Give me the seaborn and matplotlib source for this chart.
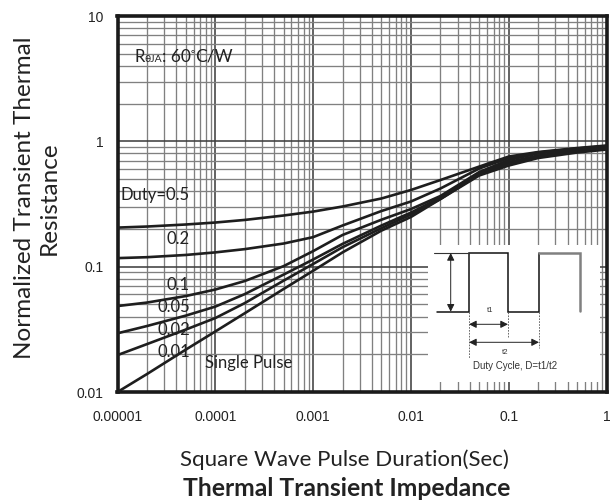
import numpy as np
import pandas as pd
import seaborn as sns
import matplotlib.pyplot as plt
from matplotlib.ticker import LogLocator, NullFormatter, FixedLocator

sns.set_theme(style="white")
plt.rcParams['font.family'] = ['Lato', 'DejaVu Sans']

# ---------------- data ----------------
pulse_time = [1e-5, 2e-5, 5e-5, 1e-4, 2e-4, 5e-4, 1e-3, 2e-3, 5e-3,
              1e-2, 2e-2, 5e-2, 0.1, 0.2, 0.5, 1.0]
duty_05 = [0.205, 0.209, 0.217, 0.225, 0.236, 0.256, 0.275, 0.302, 0.350,
           0.409, 0.491, 0.629, 0.756, 0.822, 0.884, 0.926]
duty_02 = [0.117, 0.119, 0.124, 0.130, 0.138, 0.153, 0.172, 0.213, 0.278,
           0.331, 0.420, 0.607, 0.736, 0.814, 0.876, 0.917]
duty_01 = [0.0485, 0.0517, 0.0583, 0.0657, 0.0768, 0.101, 0.133, 0.179, 0.237,
           0.288, 0.366, 0.569, 0.710, 0.800, 0.870, 0.910]
duty_005 = [0.0294, 0.0336, 0.0407, 0.0480, 0.0604, 0.0865, 0.114, 0.152, 0.213,
            0.270, 0.356, 0.559, 0.684, 0.770, 0.845, 0.892]
duty_002 = [0.0197, 0.0241, 0.0315, 0.0389, 0.0512, 0.0774, 0.105, 0.143, 0.203,
            0.261, 0.346, 0.548, 0.665, 0.756, 0.829, 0.876]
single_pulse = [0.0100, 0.0139, 0.0218, 0.0304, 0.0425, 0.0664, 0.0927, 0.130, 0.194,
                0.249, 0.346, 0.534, 0.641, 0.736, 0.814, 0.860]

curve_names = ["0.5", "0.2", "0.1", "0.05", "0.02", "single"]
curve_values = [duty_05, duty_02, duty_01, duty_005, duty_002, single_pulse]

x_ticks = [1e-5, 1e-4, 1e-3, 1e-2, 1e-1, 1]
x_tick_labels = ["0.00001", "0.0001", "0.001", "0.01", "0.1", "1"]
y_ticks = [0.01, 0.1, 1, 10]
y_tick_labels = ["0.01", "0.1", "1", "10"]

label_texts = ["Duty=0.5", "0.2", "0.1", "0.05", "0.02", "0.01"]
label_y = [0.373, 0.166, 0.0713, 0.0476, 0.0312, 0.0208]

# inset schematic (inset-local units)
wave_x = [9, 41, 41, 80, 80, 111, 111]
wave_y = [66.7, 66.7, 8, 8, 66.7, 66.7, 8]
wave_tail_x = [111, 152, 152]
wave_tail_y = [8, 8, 66]

# ---------------- figure ----------------
fig = plt.figure(figsize=(6.14, 5.04), dpi=100)
ax = fig.add_axes([117.5 / 614, 112 / 504, 489 / 614, 376 / 504])

df = pd.concat([pd.DataFrame({"t": pulse_time, "z": v, "curve": n})
                for n, v in zip(curve_names, curve_values)], ignore_index=True)
sns.lineplot(data=df, x="t", y="z", hue="curve", palette=["#1e1e1e"] * 6,
             legend=False, linewidth=1.9, estimator=None, sort=True, ax=ax, zorder=3)

ax.set_xscale("log")
ax.set_yscale("log")
ax.set_xlim(1e-5, 1)
ax.set_ylim(0.01, 10)
ax.set_xlabel("")
ax.set_ylabel("")

ax.xaxis.set_major_locator(FixedLocator(x_ticks))
ax.yaxis.set_major_locator(FixedLocator(y_ticks))
ax.xaxis.set_minor_locator(LogLocator(base=10, subs=range(2, 10), numticks=20))
ax.yaxis.set_minor_locator(LogLocator(base=10, subs=range(2, 10), numticks=20))
ax.xaxis.set_minor_formatter(NullFormatter())
ax.yaxis.set_minor_formatter(NullFormatter())
ax.set_xticklabels(x_tick_labels, fontfamily="Liberation Sans", fontsize=10, color="#222222")
ax.set_yticklabels(y_tick_labels, fontfamily="Liberation Sans", fontsize=10, color="#222222")
ax.tick_params(which="both", length=0)
ax.tick_params(axis="x", pad=13)
ax.tick_params(axis="y", pad=10)

ax.grid(which="major", color="#404040", linewidth=1.15)
ax.grid(which="minor", color="#808080", linewidth=0.95)
ax.set_axisbelow(True)
for s in ax.spines.values():
    s.set_visible(True)
    s.set_color("#1a1a1a")
    s.set_linewidth(2.6)

# curve labels
for txt, yy in zip(label_texts, label_y):
    ax.text(5.5e-5, yy, txt, ha="right", va="center", fontsize=12, color="#222222", zorder=4)
ax.text(7.85e-5, 0.017, "Single Pulse", ha="left", va="center", fontsize=12,
        color="#222222", zorder=4)

# R theta JA annotation
base_y = 0.878
t0 = ax.text(0.034, base_y, "R", transform=ax.transAxes, fontsize=12, va="baseline",
             color="#222222")
t1 = ax.annotate("θJA", xy=(1, base_y), xycoords=(t0, "axes fraction"), fontsize=7.5,
                 va="baseline", color="#222222")
t2 = ax.annotate(": 60", xy=(1, base_y), xycoords=(t1, "axes fraction"), fontsize=12.5,
                 va="baseline", color="#222222")
t3 = ax.annotate("°", xy=(1, base_y + 0.012), xycoords=(t2, "axes fraction"), fontsize=7,
                 va="baseline", color="#222222")
t4 = ax.annotate("C/W", xy=(1, base_y), xycoords=(t3, "axes fraction"), fontsize=12.5,
                 va="baseline", color="#222222")

# ---------------- inset ----------------
inax = fig.add_axes([428 / 614, (504 - 382) / 504, 172 / 614, 137 / 504])
inax.set_facecolor("white")
inax.set_xlim(0, 172)
inax.set_ylim(137, 0)
inax.set_xticks([])
inax.set_yticks([])
for s in inax.spines.values():
    s.set_visible(False)

inax.plot(wave_x, wave_y, color="#111111", lw=1.1, solid_joinstyle="miter")
inax.plot(wave_tail_x, wave_tail_y, color="#808080", lw=1.8, solid_joinstyle="miter")
inax.plot([6, 41], [8, 8], color="#333333", lw=0.8)
arrow_kw = dict(arrowstyle="<|-|>", color="#222222", lw=0.7, mutation_scale=11,
                shrinkA=0, shrinkB=0)
inax.annotate("", xy=(22.7, 8), xytext=(22.7, 66.7), arrowprops=arrow_kw)
inax.annotate("", xy=(41, 79.3), xytext=(80, 79.3), arrowprops=arrow_kw)
inax.annotate("", xy=(41, 97.3), xytext=(111, 97.3), arrowprops=arrow_kw)
for xx, y_end in [(41, 113), (80, 93), (111, 103)]:
    inax.plot([xx, xx], [67, y_end], color="#555555", lw=0.6, ls=(0, (2, 1.5)))
inax.text(62, 66, "t1", fontsize=5.5, ha="center", va="center",
          fontfamily="Liberation Sans", color="#333333")
inax.text(77, 107, "t2", fontsize=5.5, ha="center", va="center",
          fontfamily="Liberation Sans", color="#333333")
inax.text(87, 121, "Duty Cycle, D=t1/t2", fontsize=7, ha="center", va="center",
          fontfamily="Liberation Sans", color="#333333")

# ---------------- axis titles ----------------
fig.text(37 / 614, 1 - 198 / 504, "Normalized Transient Thermal\nResistance",
         rotation=90, ha="center", va="center", fontsize=17.5, color="#222222",
         multialignment="center", linespacing=1.2)
fig.text(344 / 614, 1 - 460 / 504, "Square Wave Pulse Duration(Sec)", ha="center",
         va="center", fontsize=16, color="#222222")
fig.text(347 / 614, 1 - 488 / 504, "Thermal Transient Impedance", ha="center",
         va="center", fontsize=17.8, fontweight="bold", color="#222222")

fig.savefig("out.png", dpi=100)
